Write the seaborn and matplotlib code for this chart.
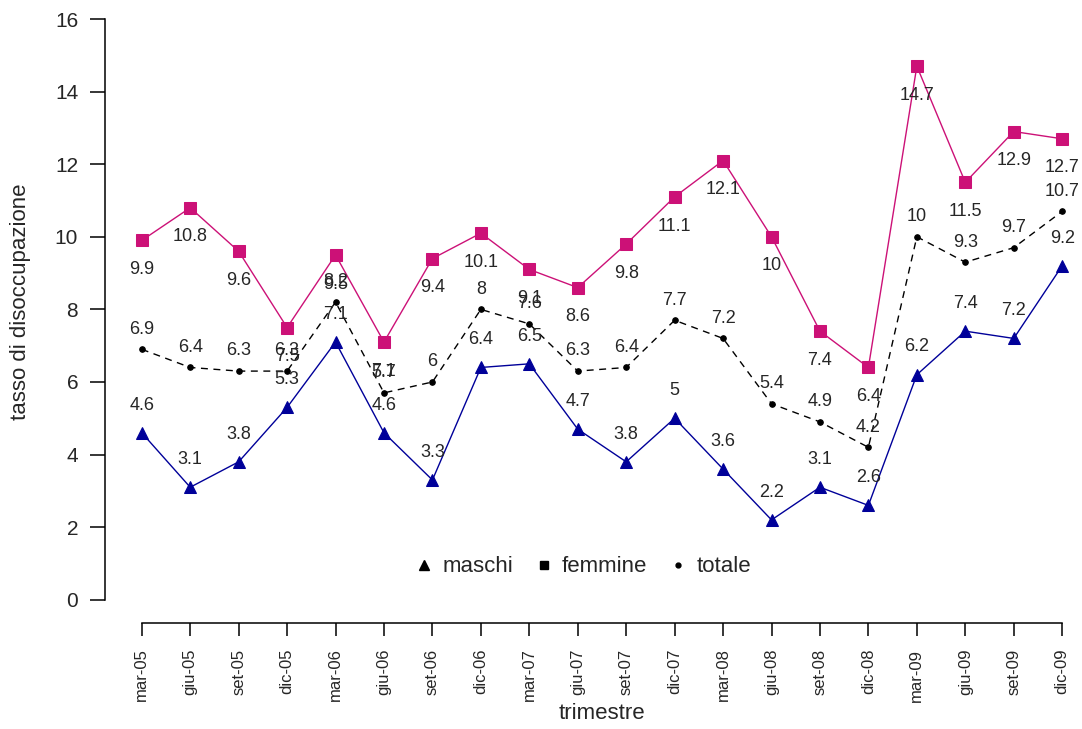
import numpy as np
import pandas as pd
import seaborn as sns
import matplotlib
matplotlib.use("Agg")
import matplotlib.pyplot as plt
from matplotlib.lines import Line2D

trimestri = ["mar-05", "giu-05", "set-05", "dic-05", "mar-06", "giu-06", "set-06", "dic-06",
             "mar-07", "giu-07", "set-07", "dic-07", "mar-08", "giu-08", "set-08", "dic-08",
             "mar-09", "giu-09", "set-09", "dic-09"]
maschi = [4.6, 3.1, 3.8, 5.3, 7.1, 4.6, 3.3, 6.4, 6.5, 4.7, 3.8, 5.0, 3.6, 2.2, 3.1, 2.6, 6.2, 7.4, 7.2, 9.2]
femmine = [9.9, 10.8, 9.6, 7.5, 9.5, 7.1, 9.4, 10.1, 9.1, 8.6, 9.8, 11.1, 12.1, 10.0, 7.4, 6.4, 14.7, 11.5, 12.9, 12.7]
totale = [6.9, 6.4, 6.3, 6.3, 8.2, 5.7, 6.0, 8.0, 7.6, 6.3, 6.4, 7.7, 7.2, 5.4, 4.9, 4.2, 10.0, 9.3, 9.7, 10.7]

df = pd.DataFrame({"pos": np.arange(len(trimestri)), "trimestre": trimestri,
                   "maschi": maschi, "femmine": femmine, "totale": totale})

sns.set_style("white")
plt.rcParams["font.family"] = ["Liberation Sans", "DejaVu Sans"]

fig = plt.figure(figsize=(10.82, 7.29), dpi=100)
ax = fig.add_axes([0.097, 0.1454, 0.9187, 0.8604])

col_f = "#CC1177"
col_m = "#000099"

sns.lineplot(data=df, x="pos", y="femmine", ax=ax, color=col_f, linewidth=1.0,
             marker="s", markersize=8, markeredgecolor=col_f, markerfacecolor=col_f)
sns.lineplot(data=df, x="pos", y="maschi", ax=ax, color=col_m, linewidth=1.0,
             marker="^", markersize=8, markeredgecolor=col_m, markerfacecolor=col_m)
sns.lineplot(data=df, x="pos", y="totale", ax=ax, color="black", linewidth=1.0,
             linestyle=(0, (5, 4)), marker="o", markersize=4,
             markeredgecolor="black", markerfacecolor="black")

# etichette dei valori
def fmt(v):
    return f"{v:g}"

for i, row in df.iterrows():
    ax.annotate(fmt(row["femmine"]), (row["pos"], row["femmine"]), xytext=(0, -21),
                textcoords="offset points", ha="center", va="center", fontsize=13)
    ax.annotate(fmt(row["maschi"]), (row["pos"], row["maschi"]), xytext=(0, 20),
                textcoords="offset points", ha="center", va="center", fontsize=13)
    ax.annotate(fmt(row["totale"]), (row["pos"], row["totale"]), xytext=(0, 14.5),
                textcoords="offset points", ha="center", va="center", fontsize=13)

ax.set_xlim(-0.76, len(trimestri) - 1 + 0.76)
ax.set_ylim(-0.64, 16.64)
ax.set_xticks(df["pos"])
ax.set_xticklabels(trimestri, rotation=90, fontsize=12)
ax.set_yticks(np.arange(0, 17, 2))
ax.set_yticklabels([str(v) for v in range(0, 17, 2)], fontsize=15)

for s in ["top", "right"]:
    ax.spines[s].set_visible(False)
ax.spines["left"].set_bounds(0, 16)
ax.spines["bottom"].set_bounds(0, len(trimestri) - 1)
for s in ["left", "bottom"]:
    ax.spines[s].set_linewidth(1.1)
    ax.spines[s].set_color("black")

ax.tick_params(axis="y", length=10.8, width=1.1, pad=8.5, left=True, color="black")
ax.tick_params(axis="x", length=9.4, width=1.1, pad=9, bottom=True, color="black")

ax.set_xlabel("trimestre", fontsize=16)
ax.set_ylabel("tasso di disoccupazione", fontsize=16)
ax.xaxis.set_label_coords(0.5, -0.1276)
ax.yaxis.set_label_coords(-0.074, 0.512)

handles = [Line2D([], [], color="black", marker="^", linestyle="none", markersize=7),
           Line2D([], [], color="black", marker="s", linestyle="none", markersize=6),
           Line2D([], [], color="black", marker="o", linestyle="none", markersize=3.5)]
ax.legend(handles, ["maschi", "femmine", "totale"], ncol=3, frameon=False, fontsize=16,
          loc="center", bbox_to_anchor=(0.48, 0.0894), handletextpad=0.3,
          columnspacing=0.9, handlelength=1.0)

fig.savefig("out.png", dpi=100)
